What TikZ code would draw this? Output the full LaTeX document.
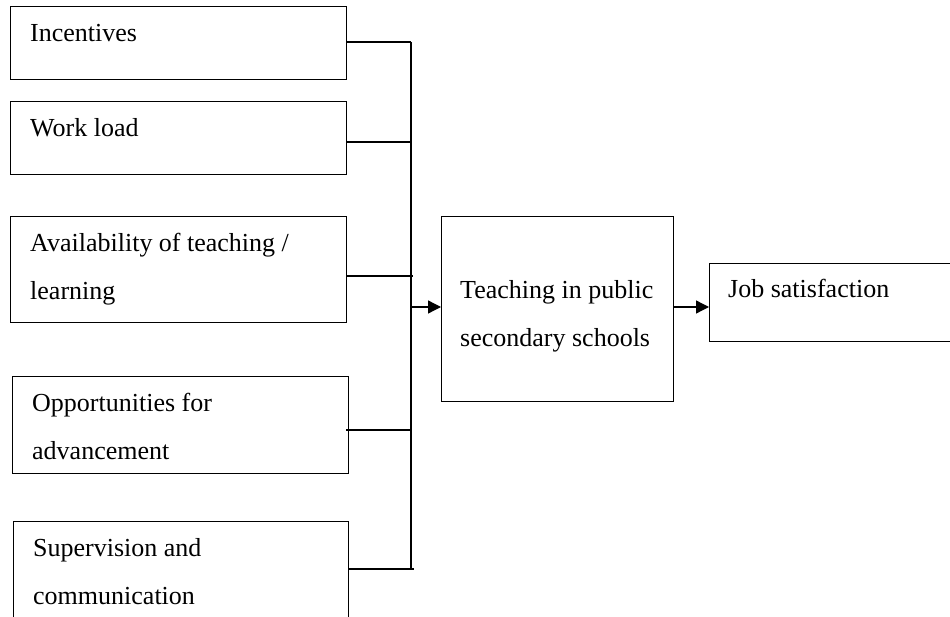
\documentclass[tikz,border=0pt]{standalone}
\usepackage{fontspec}
\setmainfont{Liberation Serif}
\usetikzlibrary{arrows.meta,calc}
\begin{document}
\begin{tikzpicture}[x=1pt,y=-1pt,
  box/.style={draw,line width=1.3pt,inner sep=0pt,anchor=north west},
  txt/.style={anchor=base west,inner sep=0pt,align=left,
    font=\fontsize{26}{48}\selectfont},
  wire/.style={line width=1.3pt},
  arr/.style={line width=1.3pt,-{Triangle[length=13pt,width=13pt]}}]
\useasboundingbox (0,0) rectangle (950,617);
\clip (0,0) rectangle (950,617);
% boxes
\node[box,minimum width=336pt,minimum height=73pt] (b1) at (10,6) {};
\node[box,minimum width=336pt,minimum height=73pt] (b2) at (10,101) {};
\node[box,minimum width=336pt,minimum height=106pt] (b3) at (10,216) {};
\node[box,minimum width=336pt,minimum height=97pt] (b4) at (12,376) {};
\node[box,minimum width=335pt,minimum height=130pt] (b5) at (13,521) {};
\node[box,minimum width=232pt,minimum height=185pt] (teach) at (441,216) {};
\node[box,minimum width=280pt,minimum height=78pt] (job) at (709,263) {};
% texts (base anchor = baseline of last line)
\node[txt] (t1) at ($(b1.north west)+(20,36)$) {Incentives};
\node[txt] (t2) at ($(b2.north west)+(20,36)$) {Work load};
\node[txt] (t3) at ($(b3.north west)+(20,84)$) {Availability of teaching /\\learning};
\node[txt] (t4) at ($(b4.north west)+(20,83)$) {Opportunities for\\advancement};
\node[txt] (t5) at ($(b5.north west)+(20,83)$) {Supervision and\\communication};
\node[txt] (t6) at ($(teach.north west)+(19,131)$) {Teaching in public\\secondary schools};
\node[txt] (t7) at ($(job.north west)+(19,35)$) {Job satisfaction};
% bus
\coordinate (bt) at (411,42);
\coordinate (bb) at (411,569);
\draw[wire] (bt) -- (bb);
\draw[wire] (b1.east |- bt) -- (bt);
\draw[wire] ($(b2.north east)+(0,41)$) -- ($(bt)+(0,100)$);
\draw[wire] ($(b3.north east)+(0,60)$) -- ($(bt)+(2,234)$);
\draw[wire] ($(b4.north east)+(-3,54)$) -- ($(bt)+(0,388)$);
\draw[wire] (b5.east |- bb) -- ($(bb)+(3,0)$);
% arrows
\coordinate (ar) at (411,307);
\draw[arr] (ar) -- (teach.west |- ar);
\draw[arr] (teach.east |- ar) -- (job.west |- ar);
\end{tikzpicture}
\end{document}
